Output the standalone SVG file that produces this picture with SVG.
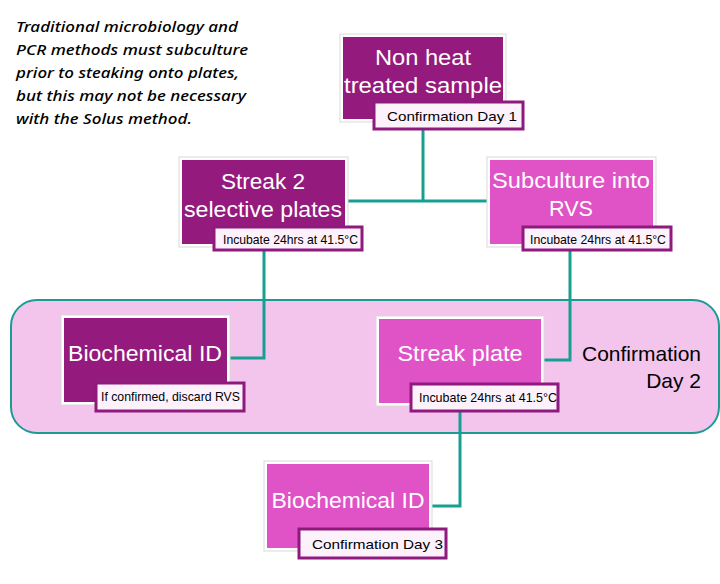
<svg xmlns="http://www.w3.org/2000/svg" width="720" height="584" viewBox="0 0 720 584">
<style>
.frame{fill:#ffffff;stroke:#d9d9d9;stroke-width:1}
.dark{fill:#951a7d}
.light{fill:#e053c6}
.lbl{fill:#fdf1fb;stroke:#8e1a7e;stroke-width:3}
.nt{font-family:"Liberation Sans","Open Sans",sans-serif;font-size:22px;fill:#ffffff;text-anchor:middle}
.lt{font-family:"Liberation Sans","Open Sans",sans-serif;font-size:13px;fill:#000000}
.note{font-family:"Noto Sans","Open Sans",sans-serif;font-size:15px;font-style:italic;font-weight:500;fill:#000000}
.conn{fill:none;stroke:#17a092;stroke-width:3}
.big{font-family:"Liberation Sans","Open Sans",sans-serif;font-size:21px;fill:#000000;text-anchor:end}
</style>
<rect width="720" height="584" fill="#ffffff"/>
<g id="note">
<text class="note" x="16" y="32" textLength="222" lengthAdjust="spacingAndGlyphs">Traditional microbiology and</text>
<text class="note" x="16" y="55" textLength="232" lengthAdjust="spacingAndGlyphs">PCR methods must subculture</text>
<text class="note" x="16" y="78" textLength="223" lengthAdjust="spacingAndGlyphs">prior to steaking onto plates,</text>
<text class="note" x="16" y="101" textLength="230" lengthAdjust="spacingAndGlyphs">but this may not be necessary</text>
<text class="note" x="16" y="124" textLength="176" lengthAdjust="spacingAndGlyphs">with the Solus method.</text>
</g>
<g id="day2-container">
<rect x="11" y="300" width="708" height="133" rx="26" ry="26" fill="#f3c5ec" stroke="#1a9b94" stroke-width="2"/>
<text class="big" x="701" y="361" textLength="119" lengthAdjust="spacingAndGlyphs">Confirmation</text>
<text class="big" x="701" y="388">Day 2</text>
</g>
<g id="connectors">
<path class="conn" d="M423 129 V201 M345 201 H490"/>
<path class="conn" d="M264 250 V358 H228"/>
<path class="conn" d="M570 250 V360 H542"/>
<path class="conn" d="M460 412 V506 H430"/>
</g>
<g id="node-sample">
<rect class="frame" x="340" y="34" width="166" height="88"/>
<rect class="dark" x="343" y="37" width="160" height="82"/>
<text class="nt" x="423" y="65" textLength="96" lengthAdjust="spacingAndGlyphs">Non heat</text>
<text class="nt" x="423" y="93" textLength="158" lengthAdjust="spacingAndGlyphs">treated sample</text>
<rect class="lbl" x="374" y="102" width="149" height="27"/>
<text class="lt" x="387" y="121" textLength="130" lengthAdjust="spacingAndGlyphs">Confirmation Day 1</text>
</g>
<g id="node-streak2">
<rect class="frame" x="179" y="157" width="169" height="90"/>
<rect class="dark" x="182" y="160" width="163" height="84"/>
<text class="nt" x="263" y="189" textLength="84" lengthAdjust="spacingAndGlyphs">Streak 2</text>
<text class="nt" x="263" y="217" textLength="158" lengthAdjust="spacingAndGlyphs">selective plates</text>
<rect class="lbl" x="214" y="227" width="148" height="23"/>
<text class="lt" x="223" y="244" font-size="12" textLength="135" lengthAdjust="spacingAndGlyphs">Incubate 24hrs at 41.5°C</text>
</g>
<g id="node-subculture">
<rect class="frame" x="487" y="157" width="169" height="90"/>
<rect class="light" x="490" y="160" width="163" height="84"/>
<text class="nt" x="571" y="188" textLength="158" lengthAdjust="spacingAndGlyphs">Subculture into</text>
<text class="nt" x="571" y="216" textLength="44" lengthAdjust="spacingAndGlyphs">RVS</text>
<rect class="lbl" x="523" y="227" width="148" height="23"/>
<text class="lt" x="530" y="244" font-size="12" textLength="136" lengthAdjust="spacingAndGlyphs">Incubate 24hrs at 41.5°C</text>
</g>
<g id="node-biochem1">
<rect class="frame" x="61" y="315" width="169" height="90"/>
<rect class="dark" x="64" y="318" width="163" height="84"/>
<text class="nt" x="145" y="361" textLength="154" lengthAdjust="spacingAndGlyphs">Biochemical ID</text>
<rect class="lbl" x="96" y="383" width="148" height="28"/>
<text class="lt" x="101" y="401" font-size="12" textLength="139" lengthAdjust="spacingAndGlyphs">If confirmed, discard RVS</text>
</g>
<g id="node-streakplate">
<rect class="frame" x="376" y="316" width="168" height="90"/>
<rect class="light" x="379" y="319" width="162" height="84"/>
<text class="nt" x="460" y="361" textLength="125" lengthAdjust="spacingAndGlyphs">Streak plate</text>
<rect class="lbl" x="411" y="384" width="147" height="27"/>
<text class="lt" x="419" y="402" font-size="12" textLength="138" lengthAdjust="spacingAndGlyphs">Incubate 24hrs at 41.5°C</text>
</g>
<g id="node-biochem2">
<rect class="frame" x="264" y="461" width="168" height="90"/>
<rect class="light" x="267" y="464" width="162" height="84"/>
<text class="nt" x="348" y="508" textLength="153" lengthAdjust="spacingAndGlyphs">Biochemical ID</text>
<rect class="lbl" x="299" y="529" width="147" height="29"/>
<text class="lt" x="312" y="549" textLength="131" lengthAdjust="spacingAndGlyphs">Confirmation Day 3</text>
</g>
</svg>
